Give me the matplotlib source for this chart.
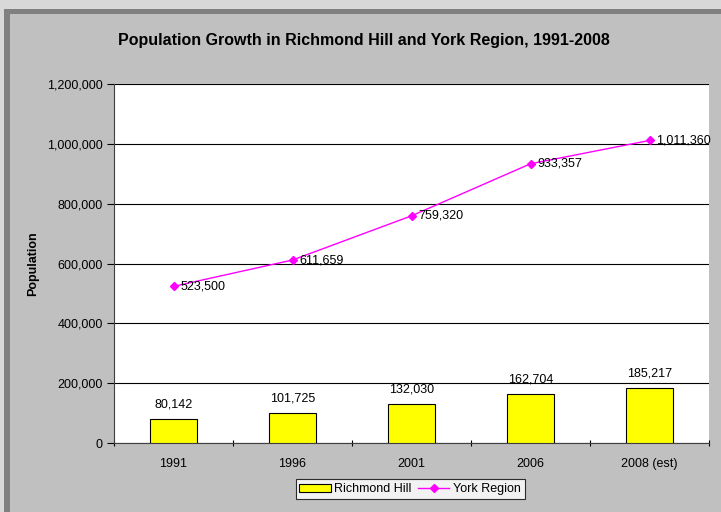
import matplotlib.pyplot as plt
from matplotlib.patches import Rectangle
from matplotlib.ticker import FuncFormatter, MultipleLocator

plt.rcParams['font.family'] = ['Liberation Sans', 'DejaVu Sans']

years = ['1991', '1996', '2001', '2006', '2008 (est)']
richmond_hill = [80142, 101725, 132030, 162704, 185217]
york_region = [523500, 611659, 759320, 933357, 1011360]

W, H = 721, 512
fig = plt.figure(figsize=(W / 100, H / 100), dpi=100)
fig.patch.set_facecolor('#d8d8d8')

# chart frame
fig.patches.append(Rectangle((4 / W, 0), 1, 1 - 9 / H, transform=fig.transFigure,
                             facecolor='#808080', edgecolor='none', zorder=-2))
fig.patches.append(Rectangle((10 / W, 0), 1, 1 - 14 / H, transform=fig.transFigure,
                             facecolor='#c0c0c0', edgecolor='none', zorder=-1))

ax = fig.add_axes([114 / W, 1 - 443 / H, (709 - 114) / W, (443 - 84) / H])
ax.set_facecolor('white')

x = list(range(len(years)))
bars = ax.bar(x, richmond_hill, width=0.4, color='#ffff00', edgecolor='black',
              linewidth=0.8, label='Richmond Hill', zorder=3)
line, = ax.plot(x, york_region, color='#ff00ff', marker='D', markersize=4,
                linewidth=1, label='York Region', zorder=4)

for xi, v in zip(x, richmond_hill):
    ax.annotate(f'{v:,}', (xi, v), xytext=(0, 6), textcoords='offset points',
                ha='center', va='bottom', fontsize=9, zorder=5)
for xi, v in zip(x, york_region):
    ax.annotate(f'{v:,}', (xi, v), xytext=(5, 0), textcoords='offset points',
                ha='left', va='center', fontsize=9, zorder=5)

ax.set_xlim(-0.5, len(years) - 0.5)
ax.set_ylim(0, 1200000)
ax.yaxis.set_major_locator(MultipleLocator(200000))
ax.yaxis.set_major_formatter(FuncFormatter(lambda v, p: f'{int(v):,}'))
ax.grid(axis='y', color='black', linewidth=0.8, zorder=1)

ax.set_xticks(x)
ax.set_xticklabels(years, fontsize=9)
ax.set_xticks([i - 0.5 for i in range(len(years) + 1)], minor=True)
ax.tick_params(axis='x', which='major', length=0, pad=11)
ax.tick_params(axis='x', which='minor', length=5, direction='inout', width=0.8)
ax.tick_params(axis='y', labelsize=9, length=5, width=0.8, pad=3)

for s in ['top', 'right']:
    ax.spines[s].set_visible(False)
ax.spines['left'].set_color('#404040')
ax.spines['bottom'].set_color('#404040')

ax.set_ylabel('Population', fontsize=9, fontweight='bold', labelpad=6)
fig.text(364 / W, 1 - 40 / H, 'Population Growth in Richmond Hill and York Region, 1991-2008',
         ha='center', va='center', fontsize=11.5, fontweight='bold')

leg = ax.legend([bars, line], ['Richmond Hill', 'York Region'], loc='center',
                bbox_to_anchor=(410 / W, 1 - 489 / H),
                bbox_transform=fig.transFigure, ncol=2, fontsize=9,
                frameon=True, fancybox=False, edgecolor='black',
                handlelength=2.5, handleheight=0.6, columnspacing=0.5,
                handletextpad=0.3, borderpad=0.3)
leg.get_frame().set_linewidth(0.8)

fig.savefig('out.png', dpi=100)
